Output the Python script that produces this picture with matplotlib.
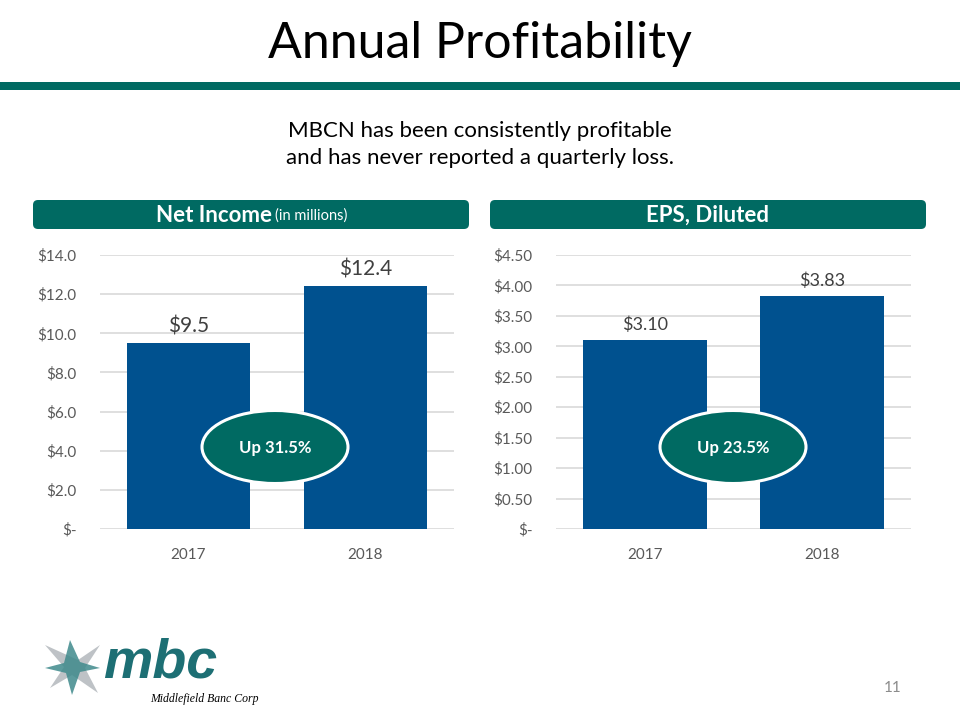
import matplotlib
matplotlib.use("Agg")
import matplotlib.pyplot as plt
from matplotlib.patches import FancyBboxPatch, Ellipse, Polygon

plt.rcParams['font.family'] = ['Lato', 'DejaVu Sans']

# data
years = ['2017', '2018']
net_income = [9.5, 12.4]
net_income_labels = ['$9.5', '$12.4']
ni_ticks = [0, 2, 4, 6, 8, 10, 12, 14]
ni_ticklabels = ['$-', '$2.0', '$4.0', '$6.0', '$8.0', '$10.0', '$12.0', '$14.0']
eps = [3.10, 3.83]
eps_labels = ['$3.10', '$3.83']
eps_ticks = [0, 0.5, 1, 1.5, 2, 2.5, 3, 3.5, 4, 4.5]
eps_ticklabels = ['$-', '$0.50', '$1.00', '$1.50', '$2.00', '$2.50', '$3.00', '$3.50', '$4.00', '$4.50']

BLUE = '#00518F'
TEAL = '#006A62'
GRID = '#D9D9D9'
TICK = '#595959'

fig = plt.figure(figsize=(9.6, 7.2), dpi=100)
fig.patch.set_facecolor('white')


def bar_panel(rect, vals, labels, ticks, ticklabels, top, lab_size):
    ax = fig.add_axes(rect)
    x = range(len(years))
    ax.bar(x, vals, width=0.70, color=BLUE, zorder=2)
    ax.set_xlim(-0.5, 1.5)
    ax.set_ylim(0, top)
    ax.set_yticks(ticks)
    ax.set_yticklabels(ticklabels)
    ax.set_xticks(list(x))
    ax.set_xticklabels(years)
    ax.tick_params(length=0, labelsize=11, labelcolor=TICK)
    ax.tick_params(axis='y', pad=17)
    ax.tick_params(axis='x', pad=14)
    ax.yaxis.grid(True, color=GRID, linewidth=1.2, zorder=0)
    for s in ax.spines.values():
        s.set_visible(False)
    for xi, v, lab in zip(x, vals, labels):
        ax.annotate(lab, (xi, v), xytext=(0, 5), textcoords='offset points',
                    ha='center', va='bottom', fontsize=lab_size, color='#404040')
    return ax


bar_panel([100 / 960, 1 - 529 / 720, 354 / 960, 274 / 720],
          net_income, net_income_labels, ni_ticks, ni_ticklabels, 14, 15)
bar_panel([556 / 960, 1 - 529 / 720, 355 / 960, 274 / 720],
          eps, eps_labels, eps_ticks, eps_ticklabels, 4.5, 13)

# overlay in pixel coordinates
ov = fig.add_axes([0, 0, 1, 1])
ov.set_xlim(0, 960)
ov.set_ylim(720, 0)
ov.axis('off')
ov.patch.set_alpha(0)

ov.text(480, 44, 'Annual Profitability', ha='center', va='center',
        fontsize=36, fontweight='normal', color='black')
ov.add_patch(plt.Rectangle((0, 82), 960, 8, color=TEAL, lw=0))
ov.text(480, 131, 'MBCN has been consistently profitable', ha='center', va='center',
        fontsize=16, color='black')
ov.text(480, 158, 'and has never reported a quarterly loss.', ha='center', va='center',
        fontsize=16, color='black')

for x0, x1 in [(33, 469), (490, 926)]:
    ov.add_patch(FancyBboxPatch((x0, 200), x1 - x0, 29,
                                boxstyle='round,pad=0,rounding_size=5',
                                fc=TEAL, ec='none'))
ov.text(272, 215, 'Net Income', ha='right', va='center', fontsize=16,
        fontweight='bold', color='white')
ov.text(275, 216, '(in millions)', ha='left', va='center', fontsize=10.5,
        color='white')
ov.text(708, 215, 'EPS, Diluted', ha='center', va='center', fontsize=16,
        fontweight='bold', color='white')

for cx, txt in [(275, 'Up 31.5%'), (733, 'Up 23.5%')]:
    ov.add_patch(Ellipse((cx, 447), 146, 73, fc=TEAL, ec='white', lw=2.2))
    ov.text(cx, 448, txt, ha='center', va='center', fontsize=12,
            fontweight='bold', color='white')

# logo
ov.add_patch(Polygon([(45, 645), (78, 660), (100, 645), (85, 668),
                      (98, 693), (72, 675), (50, 688), (64, 667)],
                     closed=True, fc='#B7BCC0', ec='none', alpha=0.9))
ov.add_patch(Polygon([(70, 640), (80, 662), (100, 668), (80, 672),
                      (72, 695), (66, 673), (45, 668), (64, 663)],
                     closed=True, fc='#3F8A8C', ec='none', alpha=0.85))
ov.text(103, 678, 'mbc', ha='left', va='baseline', fontsize=40,
        fontweight='bold', style='italic', color='#1D6F74',
        family=['Liberation Sans'])
ov.text(150, 702, 'Middlefield Banc Corp', ha='left', va='baseline',
        fontsize=8.5, style='italic', color='black', family=['Liberation Serif'])

ov.text(893, 688, '11', ha='center', va='center', fontsize=11, color='#8C8C8C')

fig.savefig('out.png', dpi=100)
